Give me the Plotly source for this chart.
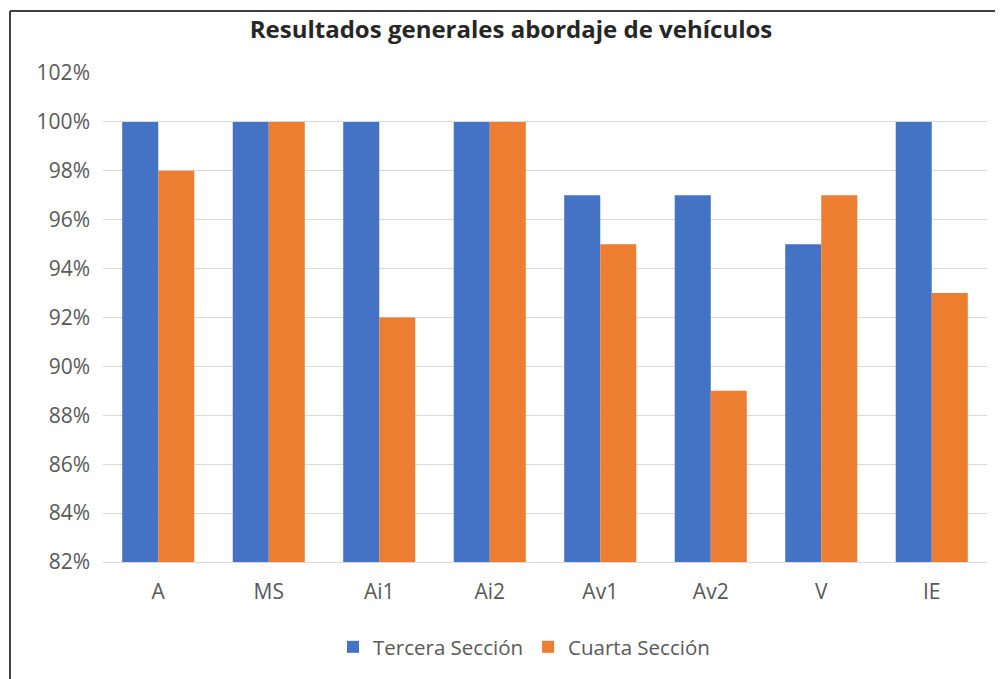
import plotly.graph_objects as go

categories = ["A", "MS", "Ai1", "Ai2", "Av1", "Av2", "V", "IE"]
tercera = [100, 100, 100, 100, 97, 97, 95, 100]
cuarta = [98, 100, 92, 100, 95, 89, 97, 93]
tick_vals = list(range(82, 103, 2))
tick_text = [f"{v}%" for v in tick_vals]

W, H = 995, 671
L, T = 95, 65
PW, PH = 884, 489
fig = go.Figure()
fig.add_trace(go.Bar(x=categories, y=tercera, name="Tercera Sección", marker_color="#4472C4", marker_line_width=0))
fig.add_trace(go.Bar(x=categories, y=cuarta, name="Cuarta Sección", marker_color="#ED7D31", marker_line_width=0))

fig.update_layout(
    width=W, height=H,
    paper_bgcolor="white", plot_bgcolor="white",
    margin=dict(l=L, r=W-L-PW, t=T, b=H-T-PH),
    barmode="group", bargap=0.348, bargroupgap=0,
    font=dict(family="Open Sans, sans-serif", color="#595959", size=21),
    title=dict(text="<b>Resultados generales abordaje de vehículos</b>",
               x=503/W, xanchor="center", y=1-22/H, yanchor="middle",
               font=dict(size=24, color="#262626")),
    legend=dict(orientation="h", x=(524-103)/PW, xanchor="center", y=(T+PH-639)/PH, yanchor="middle",
                font=dict(size=20.5, color="#595959")),
    showlegend=True,
)
fig.update_yaxes(range=[82, 102], tickvals=tick_vals, ticktext=tick_text,
                 showgrid=True, gridcolor="#D9D9D9", gridwidth=1, zeroline=False,
                 showline=False, ticks="", ticklabelstandoff=12)
fig.update_xaxes(showgrid=False, showline=True, linecolor="#D9D9D9", linewidth=1, ticks="",
                 ticklabelstandoff=11)

fig.add_shape(type="line", xref="paper", yref="paper",
              x0=(2-L)/PW, x1=(W-L)/PW, y0=(T+PH-3)/PH, y1=(T+PH-3)/PH,
              line=dict(color="#404040", width=2))
fig.add_shape(type="line", xref="paper", yref="paper",
              x0=(2-L)/PW, x1=(2-L)/PW, y0=(T+PH-3)/PH, y1=(T+PH-H)/PH,
              line=dict(color="#404040", width=2))

fig.write_html("out.html")
